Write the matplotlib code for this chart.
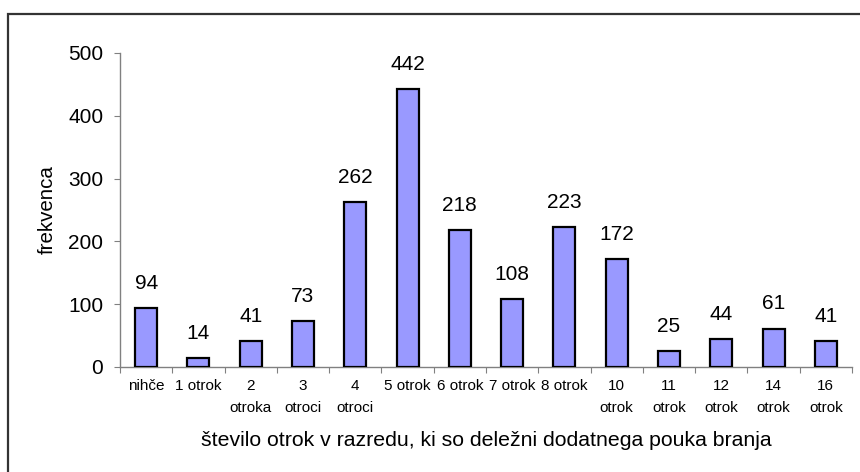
import matplotlib
matplotlib.use("Agg")
import matplotlib.pyplot as plt
from matplotlib.patches import Rectangle

plt.rcParams['font.family'] = ['Liberation Sans', 'DejaVu Sans']

# data
categories = ['nihče', '1 otrok', '2\notroka', '3\notroci', '4\notroci', '5 otrok',
              '6 otrok', '7 otrok', '8 otrok', '10\notrok', '11\notrok', '12\notrok',
              '14\notrok', '16\notrok']
counts = [94, 14, 41, 73, 262, 442, 218, 108, 223, 172, 25, 44, 61, 41]

fig = plt.figure(figsize=(8.6, 4.72), dpi=100)
ax = fig.add_axes([120 / 860, 1 - 367 / 472, 732 / 860, 314 / 472])

x = list(range(len(categories)))
bars = ax.bar(x, counts, width=0.42, color='#9999FF', edgecolor='black', linewidth=1.6, zorder=3)

for xi, v in zip(x, counts):
    ax.annotate(str(v), (xi, v), xytext=(0, 11), textcoords='offset points',
                ha='center', va='bottom', fontsize=15)

ax.set_xlim(-0.5, len(categories) - 0.5)
ax.set_ylim(0, 500)
ax.set_yticks([0, 100, 200, 300, 400, 500])

# category labels sit between the boundary ticks
ax.set_xticks([i - 0.5 for i in range(len(categories) + 1)])
ax.set_xticklabels([])
ax.set_xticks(x, minor=True)
ax.set_xticklabels(categories, minor=True, fontsize=11, linespacing=1.65)
ax.tick_params(axis='x', which='minor', length=0, pad=9)
ax.tick_params(axis='x', which='major', length=4, color='#808080', direction='out')
ax.tick_params(axis='y', length=4, color='#808080', labelsize=15, pad=8)

for s in ['top', 'right']:
    ax.spines[s].set_visible(False)
for s in ['left', 'bottom']:
    ax.spines[s].set_color('#808080')
    ax.spines[s].set_linewidth(1.0)

ax.set_xlabel('število otrok v razredu, ki so deležni dodatnega pouka branja', fontsize=15.3, va='center')
ax.xaxis.set_label_coords(0.5, -0.235)
ax.set_ylabel('frekvenca', fontsize=14.8, va='center')
ax.yaxis.set_label_coords(-0.0997, 0.5)

# outer chart-area frame, cut off at the right and bottom
fig.patches.append(Rectangle((8 / 860, -0.2), 1.2, 0.2 + 1 - 14 / 472, transform=fig.transFigure,
                             fill=False, edgecolor='#333333', linewidth=1.6))

fig.savefig('out.png', dpi=100)
